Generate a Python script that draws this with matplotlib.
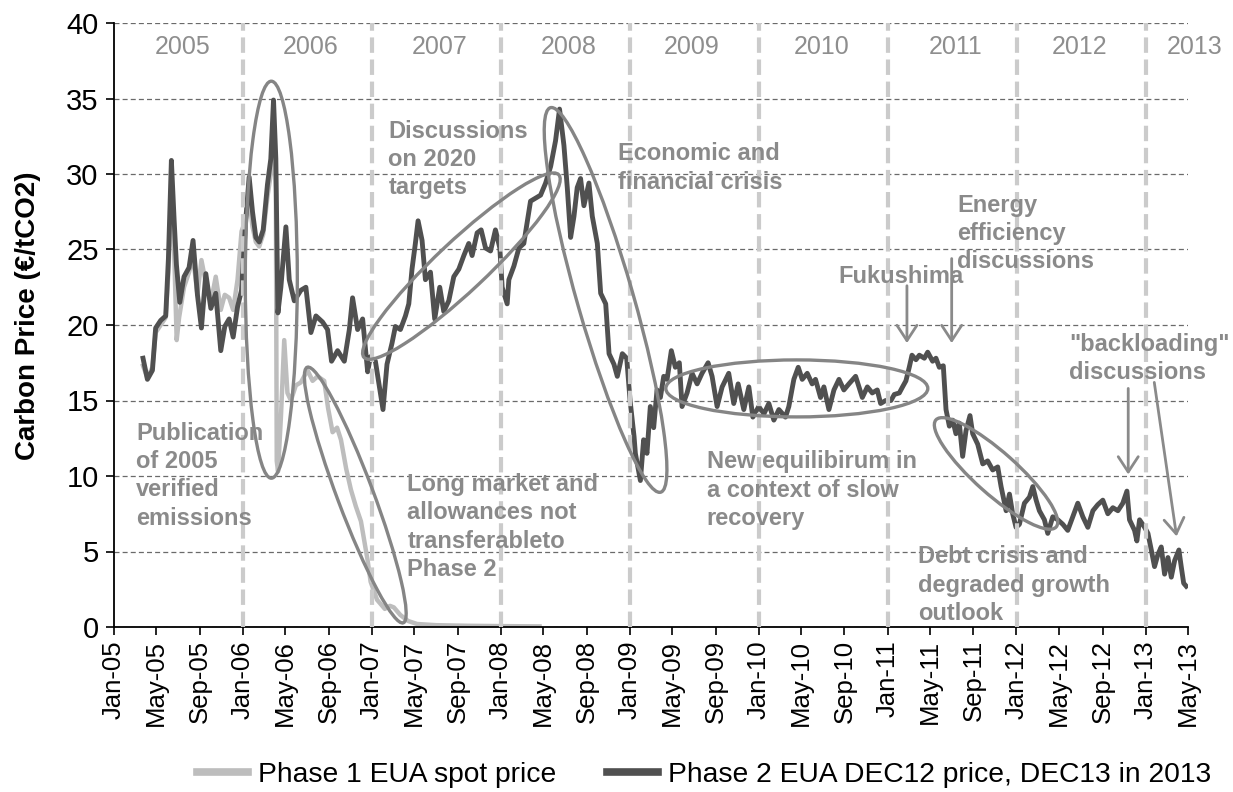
import numpy as np
import pandas as pd
import matplotlib
matplotlib.use("Agg")
import matplotlib.pyplot as plt
import matplotlib.dates as mdates
import matplotlib.transforms as mtransforms
from matplotlib.patches import Ellipse

plt.rcParams["font.family"] = ["Liberation Sans", "DejaVu Sans"]

# Phase 1 EUA spot price (decimal year, EUR/tCO2)
phase1_t = [2005.225, 2005.259, 2005.298, 2005.323, 2005.362, 2005.401, 2005.422, 2005.445, 2005.466, 2005.486,
            2005.505, 2005.543, 2005.582, 2005.613, 2005.647, 2005.678, 2005.712, 2005.751, 2005.789, 2005.828,
            2005.859, 2005.893, 2005.924, 2005.958, 2005.989, 2006.022, 2006.048, 2006.074, 2006.100, 2006.126,
            2006.157, 2006.190, 2006.216, 2006.237, 2006.255, 2006.262, 2006.272, 2006.295, 2006.320, 2006.345,
            2006.372, 2006.410, 2006.449, 2006.501, 2006.540, 2006.579, 2006.630, 2006.660, 2006.695, 2006.730,
            2006.760, 2006.800, 2006.837, 2006.875, 2006.915, 2006.945, 2006.967, 2006.990, 2007.040, 2007.100,
            2007.140, 2007.170, 2007.220, 2007.280, 2007.350, 2007.500, 2007.750, 2008.000, 2008.300]
phase1_v = [17.3, 16.5, 17.2, 19.5, 20.0, 20.5, 23.5, 28.5, 25.0, 19.0,
            20.5, 22.5, 23.5, 24.5, 22.0, 24.3, 22.8, 21.5, 23.2, 21.0,
            22.0, 21.8, 21.0, 23.0, 26.2, 27.0, 28.5, 26.5, 25.5, 25.2,
            26.0, 28.5, 30.0, 33.0, 29.0, 11.0, 10.3, 14.0, 19.0, 15.5,
            15.0, 16.0, 16.2, 17.0, 16.3, 16.6, 16.3, 14.5, 12.9, 13.2,
            12.4, 10.5, 9.1, 8.0, 7.0, 5.5, 4.4, 3.0, 1.8, 1.2,
            1.4, 1.3, 0.8, 0.4, 0.2, 0.12, 0.08, 0.06, 0.04]

# Phase 2 EUA DEC12 (DEC13 in 2013)
phase2_t = [2005.225, 2005.259, 2005.298, 2005.323, 2005.362, 2005.401, 2005.422, 2005.445, 2005.466, 2005.484,
            2005.510, 2005.543, 2005.582, 2005.613, 2005.647, 2005.678, 2005.712, 2005.751, 2005.789, 2005.828,
            2005.859, 2005.893, 2005.924, 2005.958, 2005.989,
            2006.022, 2006.048, 2006.074, 2006.100, 2006.126, 2006.157, 2006.190, 2006.216, 2006.237, 2006.255,
            2006.271, 2006.294, 2006.333, 2006.359, 2006.398, 2006.449, 2006.488, 2006.527, 2006.566, 2006.617,
            2006.656, 2006.687, 2006.734, 2006.786, 2006.825, 2006.850, 2006.889, 2006.928, 2006.967, 2006.988,
            2007.027, 2007.053, 2007.086, 2007.117, 2007.156, 2007.182, 2007.221, 2007.260, 2007.286, 2007.311,
            2007.337, 2007.358, 2007.389, 2007.415, 2007.454, 2007.487, 2007.526, 2007.557, 2007.596, 2007.635,
            2007.674, 2007.713, 2007.751, 2007.777, 2007.816, 2007.847, 2007.881, 2007.920, 2007.958, 2007.992,
            2008.010, 2008.049, 2008.062, 2008.101, 2008.140, 2008.178, 2008.204, 2008.230, 2008.269, 2008.308,
            2008.347, 2008.386, 2008.424, 2008.455, 2008.489, 2008.515, 2008.541, 2008.567, 2008.592, 2008.618,
            2008.644, 2008.683, 2008.709, 2008.748, 2008.774, 2008.813, 2008.839, 2008.877, 2008.903, 2008.942,
            2008.976, 2009.002, 2009.033,
            2009.043, 2009.082, 2009.107, 2009.133, 2009.159, 2009.185, 2009.211, 2009.237, 2009.263, 2009.289,
            2009.322, 2009.353, 2009.384, 2009.405, 2009.444, 2009.483, 2009.522, 2009.560, 2009.607, 2009.638,
            2009.677, 2009.716, 2009.767, 2009.806, 2009.840, 2009.884, 2009.923, 2009.954,
            2010.000, 2010.039, 2010.078, 2010.117, 2010.156, 2010.207, 2010.233, 2010.272, 2010.306, 2010.337,
            2010.376, 2010.414, 2010.440, 2010.479, 2010.505, 2010.544, 2010.583, 2010.622, 2010.660, 2010.699,
            2010.751, 2010.803, 2010.842, 2010.880, 2010.919, 2010.945, 2010.984,
            2011.025, 2011.051, 2011.090, 2011.115, 2011.141, 2011.167, 2011.188, 2011.219, 2011.245, 2011.284,
            2011.310, 2011.348, 2011.374, 2011.400, 2011.431, 2011.452, 2011.478, 2011.504, 2011.529, 2011.555,
            2011.581, 2011.607, 2011.638, 2011.659, 2011.698, 2011.737, 2011.775, 2011.814, 2011.853, 2011.879,
            2011.918, 2011.944, 2011.969, 2011.995,
            2012.021, 2012.060, 2012.099, 2012.125, 2012.151, 2012.176, 2012.215, 2012.241, 2012.280, 2012.319,
            2012.358, 2012.396, 2012.435, 2012.474, 2012.513, 2012.552, 2012.591, 2012.629, 2012.668, 2012.707,
            2012.746, 2012.785, 2012.823, 2012.855, 2012.875, 2012.914, 2012.932, 2012.953, 2012.992,
            2013.018, 2013.044, 2013.069, 2013.095, 2013.121, 2013.147, 2013.173, 2013.199, 2013.225, 2013.258,
            2013.276, 2013.295, 2013.315]
phase2_v = [17.8, 16.4, 17.0, 19.8, 20.3, 20.6, 24.4, 30.9, 27.0, 24.0,
            21.5, 23.2, 23.8, 25.6, 22.0, 19.8, 23.4, 21.1, 22.1, 18.3,
            19.9, 20.4, 19.2, 21.2, 22.3,
            27.0, 29.8, 27.5, 25.8, 25.5, 26.3, 29.3, 31.0, 34.9, 31.0,
            20.8, 22.5, 26.5, 23.0, 21.6, 22.3, 22.5, 19.5, 20.6, 20.2,
            19.7, 17.6, 18.3, 17.6, 19.7, 21.8, 19.7, 20.4, 16.9, 17.9,
            17.6, 16.2, 14.4, 17.4, 18.8, 19.9, 19.7, 20.6, 21.4, 23.7,
            25.4, 26.9, 25.6, 23.0, 23.5, 20.4, 22.5, 20.9, 21.6, 23.2,
            23.7, 24.6, 25.4, 24.6, 26.1, 26.3, 25.1, 24.9, 26.3, 25.1,
            22.5, 21.4, 23.0, 23.9, 25.1, 25.4, 26.8, 28.2, 28.4, 28.6,
            29.4, 30.5, 32.2, 34.3, 31.9, 29.1, 25.8, 27.2, 29.1, 29.7,
            27.9, 29.4, 27.2, 25.4, 22.1, 21.4, 18.1, 17.4, 16.6, 18.1,
            17.8, 15.0, 12.6,
            11.5, 9.7, 12.4, 11.5, 14.6, 13.2, 15.7, 15.2, 16.6, 16.4,
            18.3, 17.2, 17.5, 14.6, 15.5, 16.8, 16.1, 16.8, 17.5, 16.6,
            14.6, 15.9, 16.8, 14.8, 16.1, 14.4, 15.9, 13.9,
            14.6, 14.1, 14.8, 13.7, 14.4, 13.9, 14.6, 16.4, 17.2, 16.4,
            16.8, 16.1, 16.4, 15.2, 15.9, 14.4, 15.7, 16.4, 15.7, 16.1,
            16.6, 15.2, 15.9, 15.5, 15.7, 14.8, 15.0,
            15.0, 15.4, 15.5, 15.9, 16.3, 17.2, 18.0, 17.7, 18.0, 17.8,
            18.2, 17.6, 17.8, 17.2, 17.3, 14.4, 13.3, 13.7, 12.8, 13.5,
            11.3, 13.0, 14.0, 12.8, 12.1, 10.8, 11.0, 10.4, 10.6, 9.3,
            7.7, 8.8, 7.5, 6.6,
            6.8, 8.2, 8.6, 9.3, 8.4, 7.7, 7.1, 6.2, 7.3, 7.1,
            6.8, 6.4, 7.3, 8.2, 7.3, 6.6, 7.7, 8.1, 8.4, 7.5,
            7.9, 7.7, 8.2, 9.0, 7.1, 6.4, 5.7, 7.1, 6.6,
            6.2, 5.1, 4.0, 4.8, 5.3, 3.5, 4.6, 3.3, 4.4, 5.1,
            4.0, 2.9, 2.7]

years = [2005, 2006, 2007, 2008, 2009, 2010, 2011, 2012, 2013]
year_label_pos = [2005.536, 2006.522, 2007.523, 2008.525, 2009.48, 2010.489, 2011.53, 2012.484, 2013.377]


def to_date(y):
    return pd.Timestamp("2005-01-01") + pd.to_timedelta((np.asarray(y) - 2005) * 365.25, unit="D")


fig = plt.figure(figsize=(12.33, 7.92), dpi=100)
ax = fig.add_axes([114 / 1233, 1 - 627 / 792, (1188 - 114) / 1233, (627 - 23) / 792])

gray_txt = "#8a8a8a"
ell_col = "#858585"

ax.plot(to_date(phase1_t), phase1_v, color="#bdbdbd", lw=3.2, zorder=2,
        label="Phase 1 EUA spot price")
ax.plot(to_date(phase2_t), phase2_v, color="#505050", lw=3.5, zorder=2.5,
        label="Phase 2 EUA DEC12 price, DEC13 in 2013")

# year separators
for y in years[1:]:
    ax.axvline(to_date(y), color="#cbcbcb", lw=3.0, ls=(0, (3.7, 1.6)), zorder=3)
for y, p in zip(years, year_label_pos):
    ax.text(to_date(p), 38.4, str(y), ha="center", va="center", fontsize=18,
            color="#8e8e8e", family=["Liberation Sans Narrow", "Liberation Sans"], clip_on=False)

ax.set_xlim(pd.Timestamp("2005-01-01"), pd.Timestamp("2013-05-01"))
ax.set_ylim(0, 40)
ax.set_yticks(range(0, 41, 5))
ax.yaxis.grid(True, ls=(0, (4, 2.5)), color="#6a6a6a", lw=0.9)
ax.set_axisbelow(True)
for s in ["top", "right"]:
    ax.spines[s].set_visible(False)
ax.spines["left"].set_linewidth(1.3)
ax.spines["bottom"].set_linewidth(1.3)
ax.xaxis.set_major_locator(mdates.MonthLocator(bymonth=[1, 5, 9]))
ax.xaxis.set_major_formatter(mdates.DateFormatter("%b-%y"))
ax.tick_params(axis="both", direction="out", length=6, width=1.2, labelsize=18.5)
ax.tick_params(axis="y", labelsize=21, pad=5)
plt.setp(ax.get_xticklabels(), rotation=90)

fig.text(28 / 1233, 1 - 316 / 792, "Carbon Price (€/tCO2)", rotation=90, ha="center", va="center",
         fontsize=20, fontweight="bold")


def add_ellipse(cx, cy, w, h, ang):
    off = mtransforms.ScaledTranslation(mdates.date2num(to_date(cx)), cy, ax.transData)
    e = Ellipse((0, 0), w, h, angle=ang, transform=mtransforms.IdentityTransform() + off,
                fill=False, edgecolor=ell_col, lw=2.4, zorder=4, clip_on=False)
    ax.add_patch(e)


add_ellipse(2006.22, 23.0, 52, 397, 0)
add_ellipse(2006.871, 8.74, 273, 36, -69.4)
add_ellipse(2007.694, 23.9, 267, 50, 43.2)
add_ellipse(2008.812, 21.66, 400, 56, -74.0)
add_ellipse(2010.295, 15.8, 262, 57, 0)
add_ellipse(2011.84, 10.17, 161, 42, -41.7)

notes = [
    (2005.171, 13.6, "Publication\nof 2005\nverified\nemissions"),
    (2007.127, 33.6, "Discussions\non 2020\ntargets"),
    (2008.905, 32.1, "Economic and\nfinancial crisis"),
    (2007.275, 10.2, "Long market and\nallowances not\ntransferableto\nPhase 2"),
    (2009.596, 11.7, "New equilibirum in\na context of slow\nrecovery"),
    (2010.621, 24.0, "Fukushima"),
    (2011.537, 28.7, "Energy\nefficiency\ndiscussions"),
    (2012.407, 19.5, "\"backloading\"\ndiscussions"),
    (2011.234, 5.4, "Debt crisis and\ndegraded growth\noutlook"),
]
for x, y, t in notes:
    ax.text(to_date(x), y, t, ha="left", va="top", fontsize=17, fontweight="bold",
            color=gray_txt, linespacing=1.3, zorder=5)

arrows = [
    ((2011.149, 22.6), (2011.149, 18.8)),
    ((2011.496, 24.4), (2011.496, 18.8)),
    ((2012.865, 15.8), (2012.865, 10.1)),
    ((2013.067, 16.2), (2013.24, 6.0)),
]
for (x0, y0), (x1, y1) in arrows:
    ax.annotate("", xy=(to_date(x1), y1), xytext=(to_date(x0), y0),
                arrowprops=dict(arrowstyle="->,head_length=0.55,head_width=0.36",
                                color=gray_txt, lw=2.0, mutation_scale=20,
                                shrinkA=0, shrinkB=0), zorder=5)

leg = fig.legend(loc="center", bbox_to_anchor=(0.571, 1 - 775 / 792), ncol=2, frameon=False,
                 fontsize=20.3, handlelength=1.8, columnspacing=1.8, handletextpad=0.35,
                 borderpad=0, borderaxespad=0)
for h in leg.get_lines():
    h.set_linewidth(5.5)

fig.savefig("out.png", dpi=100)
